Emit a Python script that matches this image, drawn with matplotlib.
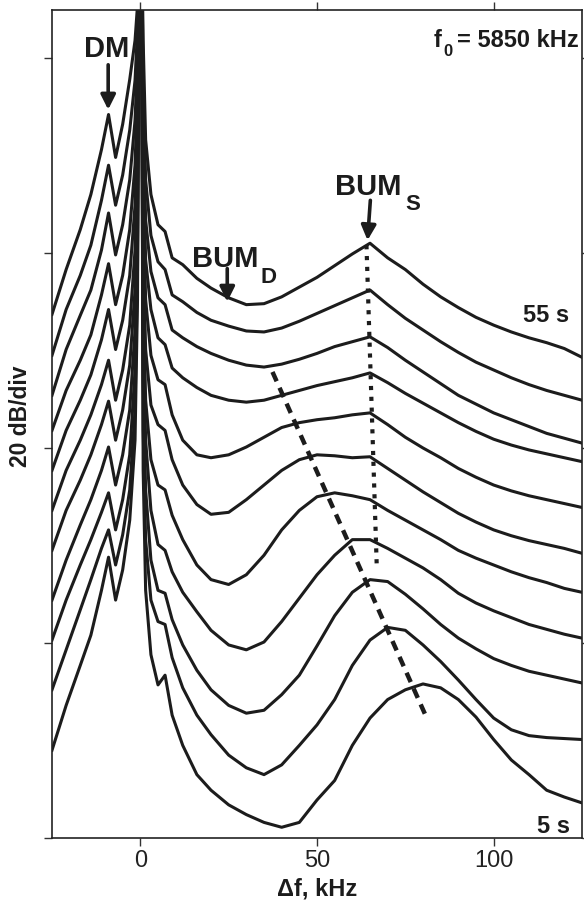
"""Stacked spectra of stimulated emission, f0 = 5850 kHz, 5 s to 55 s."""

import matplotlib

matplotlib.use("Agg")
import matplotlib.pyplot as plt

plt.rcParams["font.family"] = ["Liberation Sans", "DejaVu Sans"]

# frequency offset from the pump, kHz
FREQ_KHZ = [-25, -21, -17, -14, -11, -9, -7, -5, -3, -1.5, -0.8, -0.3, 0.3, 0.8,
            1.5, 3, 5, 7, 9, 12, 16, 20, 25, 30, 35, 40, 45, 50, 55, 60, 65, 70,
            75, 80, 85, 90, 95, 100, 105, 110, 115, 120, 125]

# spectrum level in dB (already stacked, 20 dB/div), one list per time
LEVEL_5S = [9.0, 13.6, 17.7, 20.8, 25.4, 28.8, 24.4, 27.5, 32.6, 40.8, 55.2, 94.2, 94.2, 37.7,
            25.4, 18.8, 15.7, 16.7, 12.6, 9.5, 6.5, 4.9, 3.4, 2.4, 1.6, 1.1, 1.6, 3.9, 5.9, 9.5,
            12.3, 14.2, 15.2, 15.8, 15.4, 14.2, 12.4, 10.1, 8.0, 6.5, 4.9, 4.2, 3.6]
LEVEL_10S = [15.2, 19.3, 23.4, 26.5, 29.7, 31.6, 28.0, 31.1, 35.7, 43.9, 58.3, 94.2, 94.2, 41.8,
             30.6, 24.4, 22.2, 21.9, 18.5, 15.4, 12.6, 10.6, 8.5, 7.2, 6.5, 7.5, 9.5, 11.6, 14.2,
             17.7, 20.3, 21.6, 21.3, 19.8, 18.1, 16.2, 14.2, 12.3, 11.1, 10.5, 10.3, 10.2, 10.1]
LEVEL_15S = [20.3, 24.4, 28.0, 30.6, 33.4, 35.4, 31.6, 34.7, 39.3, 48.0, 61.3, 94.2, 94.2, 47.0,
             35.7, 28.5, 25.4, 25.1, 22.4, 19.8, 17.2, 15.2, 13.6, 12.8, 13.1, 14.7, 16.7, 19.7,
             22.8, 25.2, 26.5, 26.3, 25.0, 23.5, 21.9, 20.5, 19.4, 18.4, 17.7, 17.1, 16.7, 16.3, 15.9]
LEVEL_20S = [24.4, 28.5, 32.1, 34.7, 37.7, 40.1, 36.2, 39.3, 43.9, 52.1, 64.4, 94.2, 94.2, 52.1,
             40.8, 33.6, 30.1, 29.5, 27.3, 25.2, 23.2, 21.3, 19.8, 19.3, 20.1, 22.2, 24.6, 27.0,
             29.0, 30.6, 30.6, 29.7, 28.7, 27.7, 26.5, 25.1, 24.1, 23.3, 22.6, 21.9, 21.4, 20.9, 20.5]
LEVEL_25S = [29.5, 33.6, 36.7, 39.3, 42.4, 44.8, 40.8, 43.9, 48.5, 56.2, 67.5, 94.2, 94.2, 56.2,
             44.9, 38.8, 36.2, 35.7, 33.1, 30.6, 28.0, 26.5, 26.0, 27.0, 29.0, 31.6, 33.6, 35.0,
             35.4, 35.1, 34.7, 33.6, 32.6, 31.6, 30.6, 29.5, 28.7, 28.0, 27.3, 26.7, 26.2, 25.6, 25.2]
LEVEL_30S = [33.6, 37.7, 40.8, 43.4, 46.5, 49.0, 44.9, 48.0, 52.6, 60.3, 70.6, 94.2, 94.2, 60.3,
             50.1, 44.4, 42.4, 41.8, 38.8, 36.2, 34.2, 33.2, 33.4, 34.7, 36.2, 37.7, 38.8, 39.3,
             39.2, 39.0, 39.1, 37.9, 36.7, 35.5, 34.4, 33.3, 32.4, 31.6, 31.0, 30.5, 30.1, 29.7, 29.2]
LEVEL_35S = [37.7, 41.8, 44.9, 47.5, 51.1, 54.2, 50.1, 53.1, 57.7, 64.9, 73.6, 94.2, 94.2, 65.4,
             55.2, 49.5, 47.0, 46.5, 43.4, 40.8, 39.3, 39.0, 39.3, 40.1, 41.1, 42.1, 42.6, 42.9,
             43.1, 43.4, 43.6, 42.4, 41.1, 40.0, 39.0, 37.9, 37.0, 36.2, 35.6, 35.1, 34.7, 34.3, 33.9]
LEVEL_40S = [41.8, 45.9, 49.0, 51.6, 55.7, 58.9, 54.7, 57.7, 62.4, 69.0, 76.7, 94.2, 94.2, 69.5,
             59.3, 54.2, 51.3, 50.6, 48.2, 47.2, 46.2, 45.4, 44.9, 44.7, 44.9, 45.4, 45.9, 46.4,
             46.8, 47.2, 47.7, 46.7, 45.6, 44.6, 43.6, 42.6, 41.7, 40.9, 40.3, 39.8, 39.4, 39.0, 38.6]
LEVEL_45S = [45.4, 50.1, 53.6, 56.2, 60.3, 64.1, 59.8, 62.9, 67.5, 73.6, 79.8, 94.2, 94.2, 73.6,
             63.4, 58.1, 55.4, 54.7, 52.1, 51.3, 50.4, 49.7, 49.0, 48.5, 48.3, 48.6, 49.1, 49.7,
             50.4, 50.9, 51.4, 50.3, 49.0, 47.8, 46.6, 45.4, 44.5, 43.6, 42.9, 42.2, 41.5, 41.0, 40.5]
LEVEL_50S = [49.5, 54.2, 57.7, 60.8, 65.4, 69.0, 64.9, 68.0, 72.6, 77.7, 82.9, 94.2, 94.2, 77.7,
             67.5, 61.8, 59.1, 58.3, 55.7, 55.0, 53.9, 53.1, 52.5, 52.0, 51.9, 52.3, 53.0, 53.8,
             54.6, 55.4, 56.2, 54.7, 53.3, 52.1, 50.9, 49.8, 48.8, 48.0, 47.2, 46.5, 45.9, 45.4, 44.9]
LEVEL_55S = [53.7, 58.3, 62.4, 66.0, 70.6, 74.2, 69.8, 73.2, 77.8, 81.8, 85.4, 94.2, 94.2, 81.8,
             71.6, 66.0, 62.9, 62.2, 59.5, 58.8, 57.4, 56.4, 55.4, 54.7, 54.8, 55.5, 56.5, 57.5,
             58.7, 59.9, 61.0, 59.5, 58.3, 56.8, 55.5, 54.4, 53.4, 52.6, 51.9, 51.3, 50.8, 50.2, 49.3]

SPECTRA = [LEVEL_5S, LEVEL_10S, LEVEL_15S, LEVEL_20S, LEVEL_25S, LEVEL_30S,
           LEVEL_35S, LEVEL_40S, LEVEL_45S, LEVEL_50S, LEVEL_55S]

# guide lines: drifting BUM_D peak (dashed) and fixed BUM_S peak (dotted)
BUMD_TRACK_KHZ = [37.4, 80.7]
BUMD_TRACK_DB = [47.8, 12.6]
BUMS_TRACK_KHZ = [64.0, 66.9]
BUMS_TRACK_DB = [60.8, 28.0]

X_TICKS = [0, 50, 100]
Y_TICKS = [0, 20, 40, 60, 80]

INK = "#1c1c1c"


def main() -> None:
    fig = plt.figure(figsize=(5.84, 9.0), dpi=100)
    ax = fig.add_axes([52 / 584, 62 / 900, 530 / 584, 828 / 900])

    for level in SPECTRA:
        ax.plot(FREQ_KHZ, level, color=INK, lw=2.2, solid_joinstyle="round")

    ax.plot(BUMD_TRACK_KHZ, BUMD_TRACK_DB, color=INK, lw=3.2,
            linestyle=(0, (2.3, 1.6)))
    ax.plot(BUMS_TRACK_KHZ, BUMS_TRACK_DB, color=INK, lw=3.0,
            linestyle=(0, (1.0, 1.6)))

    ax.set_xlim(-25, 125)
    ax.set_ylim(0, 84.92)
    ax.set_xticks(X_TICKS)
    ax.set_yticks(Y_TICKS)
    ax.set_yticklabels([])
    ax.tick_params(axis="both", direction="out", length=5.5, width=1.0,
                   color="#333333", top=True, right=True)
    ax.tick_params(axis="x", labelsize=17, labelcolor="#222222", pad=3)
    for spine in ax.spines.values():
        spine.set_linewidth(1.2)
        spine.set_color("#222222")

    arrow = dict(arrowstyle="-|>", color=INK, lw=2.6, mutation_scale=22,
                 shrinkA=0, shrinkB=0)
    bold = dict(fontweight="bold", color=INK)

    ax.text(-9.6, 80.1, "DM", fontsize=21, ha="center", va="baseline", **bold)
    ax.annotate("", xy=(-9.1, 74.7), xytext=(-9.1, 79.3), arrowprops=arrow)

    ax.text(14.7, 58.6, "BUM", fontsize=21, ha="left", va="baseline", **bold)
    ax.text(34.0, 56.9, "D", fontsize=16, ha="left", va="baseline", **bold)
    ax.annotate("", xy=(24.6, 55.0), xytext=(24.6, 58.4), arrowprops=arrow)

    ax.text(55.2, 65.9, "BUM", fontsize=21, ha="left", va="baseline", **bold)
    ax.text(75.0, 64.4, "S", fontsize=16, ha="left", va="baseline", **bold)
    ax.annotate("", xy=(64.3, 61.3), xytext=(65.1, 65.4), arrowprops=arrow)

    ax.text(83.0, 81.1, "f", fontsize=17, ha="left", va="baseline", **bold)
    ax.text(85.8, 80.2, "0", fontsize=12, ha="left", va="baseline", **bold)
    ax.text(124.0, 81.1, "= 5850 kHz", fontsize=17, ha="right", va="baseline", **bold)

    ax.text(108.4, 52.9, "55 s", fontsize=17, ha="left", va="baseline", **bold)
    ax.text(112.4, 0.5, "5 s", fontsize=17, ha="left", va="baseline", **bold)

    fig.text(317 / 584, 1 - 889 / 900, "\u0394f, kHz", fontsize=17, ha="center",
             va="center", **bold)
    fig.text(21 / 584, 1 - 416 / 900, "20 dB/div", fontsize=16.5, rotation=90,
             ha="center", va="center", **bold)

    fig.savefig("out.png", dpi=100)
    plt.close(fig)


if __name__ == "__main__":
    main()
